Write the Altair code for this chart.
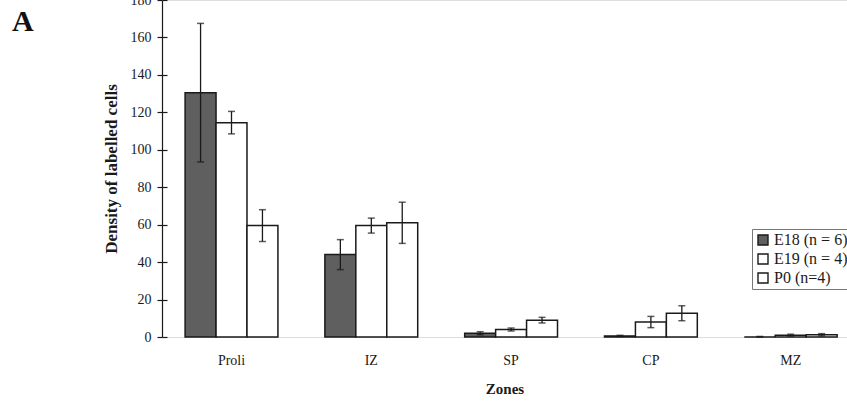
import altair as alt
import pandas as pd

zones = ["Proli", "IZ", "SP", "CP", "MZ"]
series = ["E18 (n = 6)", "E19 (n = 4)", "P0 (n=4)"]
e18 = [130.5, 44.0, 2.0, 0.6, 0.0]
e18_err = [37.0, 8.0, 0.8, 0.3, 0.3]
e19 = [114.5, 59.5, 4.0, 8.0, 1.0]
e19_err = [6.0, 4.0, 0.8, 3.0, 0.5]
p0 = [59.5, 61.0, 9.0, 12.7, 1.2]
p0_err = [8.5, 11.0, 1.5, 4.0, 0.6]
y_ticks = [0, 20, 40, 60, 80, 100, 120, 140, 160, 180]

rows = []
for s, vals, errs in zip(series, [e18, e19, p0], [e18_err, e19_err, p0_err]):
    for z, v, e in zip(zones, vals, errs):
        rows.append({"zone": z, "series": s, "value": v,
                     "lo": max(v - e, 0), "hi": v + e})
df = pd.DataFrame(rows)

SERIF = "Liberation Serif"

xenc = alt.X("zone:N", sort=zones,
             scale=alt.Scale(paddingInner=0.336, paddingOuter=0.118, align=0.70),
             axis=alt.Axis(title="Zones", labelAngle=0, domain=False, ticks=False,
                           labelPadding=16, labelFont=SERIF, labelFontSize=14,
                           labelColor="#1a1a1a", titleFont=SERIF, titleFontSize=15,
                           titleFontWeight="bold", titleColor="#1a1a1a",
                           titlePadding=14))
xoff = alt.XOffset("series:N", sort=series,
                   scale=alt.Scale(paddingInner=0, paddingOuter=0))
yscale = alt.Scale(domain=[0, 180], nice=False)

bars = alt.Chart(df).mark_bar(stroke="#1a1a1a", strokeWidth=1.5).encode(
    x=xenc,
    xOffset=xoff,
    y=alt.Y("value:Q", scale=yscale,
            axis=alt.Axis(title="Density of labelled cells", values=y_ticks,
                          grid=False, domainColor="#1a1a1a", domainWidth=1.2,
                          tickColor="#1a1a1a", tickSize=5, tickWidth=1.2,
                          labelFont=SERIF, labelFontSize=14, labelColor="#1a1a1a",
                          labelPadding=6, titleFont=SERIF, titleFontSize=17,
                          titleFontWeight="bold", titleColor="#1a1a1a",
                          titlePadding=10)),
    fill=alt.Fill("series:N", sort=series,
                  scale=alt.Scale(domain=series, range=["#5f5f5f", "#ffffff", "#ffffff"]),
                  legend=alt.Legend(title=None, orient="none", legendX=590, legendY=229,
                                    symbolType="square", symbolSize=100,
                                    symbolStrokeColor="#1a1a1a", symbolStrokeWidth=1.4,
                                    labelFont=SERIF, labelFontSize=16,
                                    labelOffset=3,
                                    labelColor="#1a1a1a", rowPadding=3,
                                    padding=3, strokeColor="#777777",
                                    fillColor="#ffffff")),
)

rules = alt.Chart(df).mark_rule(color="#1a1a1a", strokeWidth=1.3).encode(
    x=alt.X("zone:N", sort=zones),
    xOffset=xoff,
    y=alt.Y("lo:Q", scale=yscale,
            axis=alt.Axis(orient="right", offset=-685, labels=False, domain=False,
                          title=None, grid=False, values=y_ticks, tickSize=5,
                          tickColor="#1a1a1a", tickWidth=1.2)),
    y2="hi:Q",
)

caps_hi = alt.Chart(df).mark_tick(color="#1a1a1a", size=7, thickness=1.5).encode(
    x=alt.X("zone:N", sort=zones), xOffset=xoff,
    y=alt.Y("hi:Q", scale=yscale, axis=None),
)
caps_lo = alt.Chart(df).mark_tick(color="#1a1a1a", size=7, thickness=1.5).encode(
    x=alt.X("zone:N", sort=zones), xOffset=xoff,
    y=alt.Y("lo:Q", scale=yscale, axis=None),
)

panel = alt.Chart(pd.DataFrame({"t": ["A"]})).mark_text(
    font=SERIF, fontSize=30, fontWeight="bold", align="left", baseline="alphabetic",
    color="#111111").encode(text="t:N", x=alt.value(-150), y=alt.value(31))

chart = alt.layer(bars, rules, caps_hi, caps_lo, panel).resolve_axis(
    y="independent").resolve_scale(y="shared").properties(
    width=685, height=337,
    autosize=alt.AutoSizeParams(type="none"),
    padding={"left": 162, "top": 0, "right": 0, "bottom": 68},
).configure_view(stroke=None).configure(background="white")

chart.save("out.html", embed_options={"renderer": "svg", "actions": False})
